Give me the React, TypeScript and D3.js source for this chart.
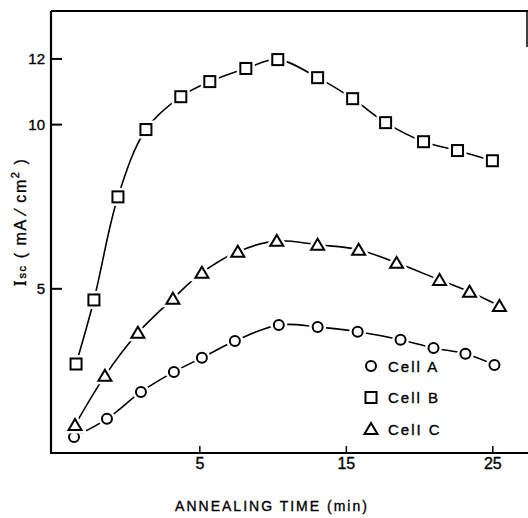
import React from "react";
import * as d3 from "d3";

const timeA = [-3.59, -1.34, 0.98, 3.23, 5.14, 7.39, 10.39, 13.04, 15.77, 18.7, 20.95, 23.13, 25.11];
const cellA = [0.49, 1.04, 1.86, 2.47, 2.9, 3.41, 3.9, 3.84, 3.69, 3.45, 3.2, 3.02, 2.68];
const timeB = [-3.45, -2.23, -0.59, 1.32, 3.7, 5.68, 8.14, 10.32, 13.04, 15.43, 17.68, 20.27, 22.59, 24.97];
const cellB = [2.71, 4.66, 7.8, 9.85, 10.85, 11.31, 11.71, 11.98, 11.43, 10.79, 10.06, 9.48, 9.21, 8.9];
const timeC = [-3.52, -1.48, 0.77, 3.16, 5.14, 7.59, 10.25, 13.04, 15.84, 18.43, 21.36, 23.41, 25.45];
const cellC = [0.85, 2.35, 3.66, 4.7, 5.49, 6.13, 6.46, 6.34, 6.19, 5.79, 5.27, 4.91, 4.48];

const xTicks = [5, 15, 25];
const yTicks = [5, 10, 12];
const legendLabels = ["Cell A", "Cell B", "CelI C"];
const xTitle = "ANNEALING TIME (min)";

const W = 528;
const H = 518;
const L = 51, T = 11, R = 528, B = 453;

type Shape = "circle" | "square" | "triangle";

function Marker({ shape, cx, cy }: { shape: Shape; cx: number; cy: number }) {
  const layers = [
    { stroke: "#fff", sw: 7 },
    { stroke: "#000", sw: 2 },
  ];
  return (
    <g>
      {layers.map((l, i) => {
        if (shape === "circle")
          return <circle key={i} cx={cx} cy={cy} r={5} fill="#fff" stroke={l.stroke} strokeWidth={l.sw} />;
        if (shape === "square")
          return <rect key={i} x={cx - 5.5} y={cy - 5.5} width={11} height={11} fill="#fff" stroke={l.stroke} strokeWidth={l.sw} />;
        const p = `M${cx - 6.5},${cy + 5} L${cx + 6.5},${cy + 5} L${cx},${cy - 6} Z`;
        return <path key={i} d={p} fill="#fff" stroke={l.stroke} strokeWidth={l.sw} strokeLinejoin="miter" />;
      })}
    </g>
  );
}

export default function App() {
  const x = d3.scaleLinear().domain([-5.16, 27.4]).range([L, R]);
  const y = d3.scaleLinear().domain([0, 13.46]).range([B, T]);

  const series: { t: number[]; v: number[]; shape: Shape }[] = [
    { t: timeA, v: cellA, shape: "circle" },
    { t: timeB, v: cellB, shape: "square" },
    { t: timeC, v: cellC, shape: "triangle" },
  ];

  const line = d3
    .line<[number, number]>()
    .x((d) => x(d[0]))
    .y((d) => y(d[1]))
    .curve(d3.curveCatmullRom.alpha(0.5));

  const font = "'Liberation Sans', Arial, sans-serif";
  const textStroke = { stroke: "#000", strokeWidth: 0.35 };

  return (
    <svg
      width={W}
      height={H}
      style={{ position: "absolute", left: 0, top: 0, background: "#fff" }}
      fontFamily={font}
    >
      <rect x={0} y={0} width={W} height={H} fill="#fff" />
      {/* frame */}
      <line x1={L} y1={T} x2={L} y2={B + 1} stroke="#000" strokeWidth={2.2} />
      <line x1={L} y1={T} x2={R} y2={T} stroke="#000" strokeWidth={2.2} />
      <line x1={R - 1} y1={T} x2={R - 1} y2={47} stroke="#000" strokeWidth={1.5} />
      <line x1={L} y1={B} x2={R} y2={B} stroke="#000" strokeWidth={2.2} />

      {/* y ticks */}
      {yTicks.map((t) => (
        <g key={t}>
          <line x1={L} x2={L + 11} y1={y(t)} y2={y(t)} stroke="#000" strokeWidth={2} />
          <text x={45} y={y(t) + 5.5} textAnchor="end" fontSize={15} {...textStroke}>
            {t}
          </text>
        </g>
      ))}

      {/* x ticks */}
      {xTicks.map((t) => (
        <g key={t}>
          <line x1={x(t)} x2={x(t)} y1={B} y2={B - 7} stroke="#000" strokeWidth={1.5} />
          <text x={x(t)} y={469} textAnchor="middle" fontSize={16} {...textStroke}>
            {t}
          </text>
        </g>
      ))}

      {/* x title */}
      <text x={272} y={511} textAnchor="middle" fontSize={14} letterSpacing={2} {...textStroke}>
        {xTitle}
      </text>

      {/* y title */}
      <text
        transform="translate(26,222) rotate(-90)"
        textAnchor="middle"
        fontSize={16}
        letterSpacing={1.6}
        fill="#000"
        {...textStroke}
      >
        <tspan fontFamily="'DejaVu Serif', serif">I</tspan>
        <tspan fontSize={11}>sc</tspan>
        <tspan>{"  ( mA ⁄ cm"}</tspan>
        <tspan fontSize={11} dy={-7}>2</tspan>
        <tspan dy={7}>{" )"}</tspan>
      </text>

      {/* lines */}
      {series.map((s, i) => (
        <path
          key={i}
          d={line(s.t.map((t, j) => [t, s.v[j]] as [number, number])) || ""}
          fill="none"
          stroke="#000"
          strokeWidth={1.6}
        />
      ))}
      {/* markers */}
      {series.map((s, i) =>
        s.t.map((t, j) => <Marker key={`${i}-${j}`} shape={s.shape} cx={x(t)} cy={y(s.v[j])} />)
      )}

      {/* legend */}
      {series.map((s, i) => (
        <g key={i}>
          <Marker shape={s.shape} cx={371} cy={366 + i * 31.5} />
          <text x={388} y={366 + i * 31.5 + 5.5} fontSize={15} letterSpacing={2} {...textStroke}>
            {legendLabels[i]}
          </text>
        </g>
      ))}
    </svg>
  );
}
